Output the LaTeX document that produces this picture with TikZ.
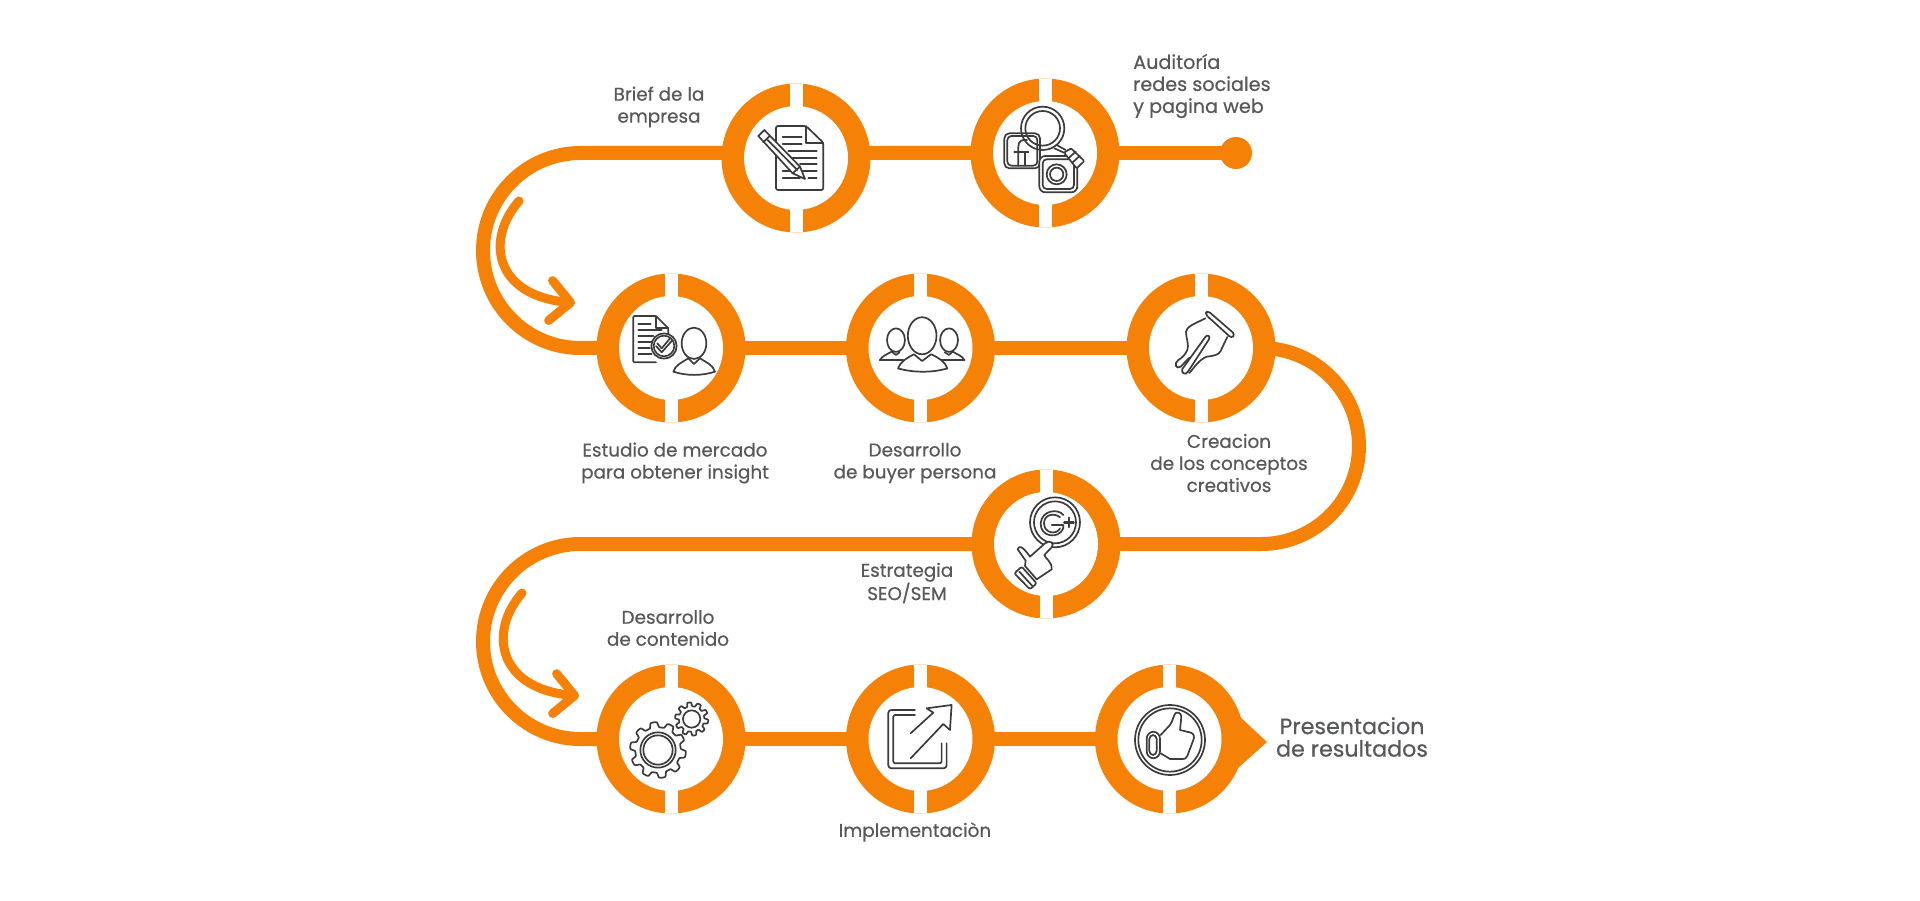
\documentclass[tikz,border=0pt]{standalone}
\usepackage{fontspec}
\setmainfont[RawFeature={embolden=0.6}]{Poppins}
\usetikzlibrary{arrows.meta,backgrounds}
\definecolor{brand}{HTML}{F58207}
\definecolor{ink}{HTML}{3C3C3E}
\definecolor{txt}{HTML}{58595B}

\begin{document}
\begin{tikzpicture}[
  x=1pt, y=1pt,
  hub/.style={circle, fill=brand, minimum size=149pt, inner sep=0pt, outer sep=0pt,
    path picture={
      \fill[white] (path picture bounding box.center) circle (52pt);
      \fill[white] ([xshift=-6.5pt,yshift=-80pt]path picture bounding box.center)
        rectangle ([xshift=6.5pt,yshift=80pt]path picture bounding box.center);
    }},
  track/.style={draw=brand, line width=14pt},
  guide/.style={draw=brand, line width=9pt, line cap=round,
                -{Straight Barb[length=20pt,width=40pt,round]}},
  lbl/.style={text=txt, align=center, inner sep=0pt, font=\fontsize{18.4}{22}\selectfont},
  lblbig/.style={text=txt, align=center, inner sep=0pt, font=\fontsize{22.2}{22.5}\selectfont},
  icon/.style={color=ink, line width=1.7pt, line join=round, line cap=round,
               x=.3333pt, y=-.3333pt}
]
\path[use as bounding box] (0,0) rectangle (1920,-901);

% ---- stations, row by row
\node[hub] (c1) at (796,-158) {};
\node[hub] (c2) at (1045,-153) {};
\node[hub] (c3) at (671,-348) {};
\node[hub] (c4) at (920.5,-348) {};
\node[hub] (c5) at (1201,-348) {};
\node[hub] (c6) at (1046,-544) {};
\node[hub] (c7) at (671,-739) {};
\node[hub] (c8) at (920.5,-739) {};
\node[hub] (c9) at (1169.5,-739) {};
\node[circle, fill=brand, minimum size=32pt, inner sep=0pt] (dot) at (1236,-153) {};

% ---- free ends of the track and of the two small arrows
\coordinate (tl) at (580.5,-153);
\coordinate (tr) at (1261,-348);
\coordinate (ml) at (580.5,-544);
\coordinate (a1) at (519,-201);
\coordinate (a1e) at (575,-303);
\coordinate (a2) at (522,-593);
\coordinate (a2e) at (579,-696);
\coordinate (tipa) at (1238,-715);
\coordinate (tipb) at (1238,-768);
\coordinate (tip) at (1267,-742);

% ---- track behind the stations
\begin{scope}[on background layer]
  \draw[track] (c2.center) -- (dot.center);
  \draw[track] (c2.center) -- (c1 |- c2) -- (tl) arc[start angle=90, end angle=270, radius=97.5pt] -- (c3.center);
  \foreach \a/\b in {c3/c4,c4/c5,c7/c8,c8/c9}
    \draw[track] (\a.center) -- (\b.center);
  \draw[track] (c5.center) -- (tr) arc[start angle=90, end angle=-90, radius=98pt] -- (c6.center);
  \draw[track] (c6.center) -- (ml) arc[start angle=90, end angle=270, radius=97.5pt] -- (c7.center);
  \fill[brand] (tipa) -- (tip) -- (tipb) -- cycle;
\end{scope}

% ---- small arrows inside the bends
\draw[guide] (a1) .. controls (485,-240) and (495,-295) .. (a1e);
\draw[guide] (a2) .. controls (488,-632) and (498,-688) .. (a2e);

% ---- labels
\node[lbl] (t1) at (659,-107) {Brief de la\\empresa};
\node[lbl, align=left, anchor=west, font=\fontsize{19.2}{22}\selectfont] (t2) at (1133,-86) {Auditoría\\redes sociales\\y pagina web};
\node[lbl] (t3) at (675,-463) {Estudio de mercado\\para obtener insight};
\node[lbl] (t4) at (915,-463) {Desarrollo\\de buyer persona};
\node[lbl] (t5) at (1229,-463) {Creacion\\de los conceptos\\creativos};
\node[lbl] (t6) at (907,-583) {Estrategia\\SEO/SEM};
\node[lbl] (t7) at (668,-628) {Desarrollo\\de contenido};
\node[lbl] (t8) at (915,-832) {Implementaciòn};
\node[lblbig] (t9) at (1352,-737) {Presentacion\\de resultados};

% ---- icon: document and pencil
\begin{scope}[shift={(745,-110)}, icon]
  \draw[rounded corners=2pt] (93,48) -- (183,48) -- (235,98) -- (235,240) -- (93,240) -- cycle;
  \draw (183,48) -- (183,98) -- (235,98);
  \foreach \xa/\xb/\yy in {113/170/80,113/170/103,130/215/123,140/215/143,165/215/163,
                           113/145/183,172/215/183,113/165/205,190/215/205}
    \draw (\xa,\yy) -- (\xb,\yy);
  \filldraw[fill=white] (40,78) -- (58,60) -- (165,170) -- (180,207) -- (143,190) -- cycle;
  \draw (55,97) -- (74,78);
  \draw (68,90) -- (157,180);
  \draw (143,190) -- (165,170);
\end{scope}

% ---- icon: magnifier over facebook and instagram
\begin{scope}[shift={(995,-100)}, icon]
  \draw[rounded corners=5pt] (28,100) rectangle (135,205);
  \draw[rounded corners=4pt] (37,108) rectangle (127,197);
  \draw (70,197) -- (70,140) .. controls (70,122) and (82,118) .. (96,120);
  \draw (58,155) -- (100,155);
  \draw (90,197) -- (90,155);
  \draw (143,85) circle (65);
  \draw (143,85) circle (52);
  \draw (185,135) -- (212,150);
  \draw (178,145) -- (207,158);
  \filldraw[fill=white, rounded corners=6pt] (133,168) rectangle (247,277);
  \draw[rounded corners=4pt] (143,178) rectangle (237,267);
  \draw (185,223) circle (30);
  \draw (185,223) circle (20);
  \filldraw[fill=white, rounded corners=1pt] (207,158) -- (228,145) -- (268,183) -- (245,205) -- cycle;
  \draw (220,175) -- (242,155);
  \draw (232,188) -- (254,168);
\end{scope}

% ---- icon: checked document and person
\begin{scope}[shift={(620,-300)}, icon]
  \draw[rounded corners=1pt] (108,187) -- (40,187) -- (40,48) -- (108,48) -- (145,85) -- (145,105);
  \draw (108,48) -- (108,85) -- (145,85);
  \foreach \xb/\yy in {92/72,125/90,100/107,95/125,90/143,95/163}
    \draw (55,\yy) -- (\xb,\yy);
  \filldraw[fill=white] (132,138) circle (38);
  \draw (132,138) circle (31);
  \draw (108,138) -- (125,157) -- (156,122);
  \draw (112,130) -- (125,145) -- (150,115);
  \draw (222,130) ellipse [x radius=37, y radius=47];
  \draw (160,215) .. controls (165,195) and (190,185) .. (205,175) -- (222,192) -- (240,175)
    .. controls (255,185) and (280,195) .. (285,215)
    .. controls (245,228) and (200,228) .. (160,215) -- cycle;
\end{scope}

% ---- icon: three people (other scale: from a wider crop)
\begin{scope}[shift={(820,-260)}, icon, x=.3584pt, y=-.3367pt]
  \draw (212,238) ellipse [x radius=25, y radius=35];
  \draw (360,238) ellipse [x radius=25, y radius=35];
  \draw (167,298) .. controls (172,285) and (188,280) .. (200,272) -- (212,282) -- (222,274);
  \draw (167,298) -- (232,298);
  \draw (403,298) .. controls (398,285) and (382,280) .. (370,272) -- (360,282) -- (348,274);
  \draw (403,298) -- (338,298);
  \filldraw[fill=white] (218,322) .. controls (225,300) and (245,290) .. (262,280) -- (285,300) -- (310,280)
    .. controls (330,290) and (348,300) .. (355,322)
    .. controls (315,335) and (260,335) .. (218,322) -- cycle;
  \draw (285,225) ellipse [x radius=40, y radius=55];
\end{scope}

% ---- icon: pen nib
\begin{scope}[shift={(1150,-295)}, icon]
  \draw[rounded corners=3pt] (165,57) -- (173,47) -- (255,118) -- (245,130) -- cycle;
  \draw (166,70) .. controls (130,88) and (110,95) .. (108,110)
    .. controls (108,130) and (118,150) .. (112,165)
    .. controls (105,180) and (95,190) .. (85,195)
    .. controls (70,205) and (78,225) .. (92,215) -- (118,188);
  \draw (118,234) .. controls (130,222) and (145,195) .. (170,185)
    .. controls (195,182) and (205,180) .. (212,168) .. controls (218,155) and (225,140) .. (232,126);
  \draw (166,126) -- (97,222) .. controls (92,235) and (108,242) .. (114,230)
    -- (177,133) .. controls (182,122) and (172,118) .. (166,126) -- cycle;
\end{scope}

% ---- icon: G+ and pointing hand
\begin{scope}[shift={(995,-490)}, icon]
  \draw (180,97) circle (75);
  \draw (180,97) circle (63);
  \draw (205,75) .. controls (190,55) and (140,60) .. (137,100)
    .. controls (135,140) and (190,150) .. (205,115) -- (205,105) -- (170,105);
  \draw (195,82) .. controls (180,68) and (147,72) .. (147,100)
    .. controls (147,130) and (185,136) .. (195,115);
  \draw[line width=2.4pt] (208,97) -- (236,97);
  \draw[line width=2.4pt] (222,83) -- (222,111);
  \filldraw[fill=white] (68,178) .. controls (72,165) and (82,168) .. (105,200) -- (150,160)
    .. controls (165,148) and (180,160) .. (170,172) -- (148,195)
    .. controls (150,205) and (172,215) .. (170,238) -- (125,268) -- (90,228) -- (92,212) -- cycle;
  \filldraw[fill=white, rounded corners=2pt] (80,230) -- (125,280) -- (105,298) -- (58,250) -- cycle;
  \draw (73,245) -- (112,288);
\end{scope}

% ---- icon: two gears
\begin{scope}[shift={(620,-690)}, icon]
  \draw (114,180) circle (53);
  \draw (114,180) circle (44);
  \draw (215,87) circle (26);
  \draw[shift={(114,180)}] plot[samples=181, domain=0:360] (\x:{76+8*tanh(3*sin(10*\x))}) -- cycle;
  \draw[shift={(215,87)}] plot[samples=181, domain=0:360] (\x:{44+6*tanh(3*sin(10*\x))}) -- cycle;
\end{scope}

% ---- icon: box with arrow going out
\begin{scope}[shift={(460,-520)}, icon]
  \draw[rounded corners=3pt] (1365,570) -- (1285,570) -- (1285,745) -- (1460,745) -- (1460,670);
  \draw[rounded corners=2pt] (1365,585) -- (1300,585) -- (1300,730) -- (1445,730) -- (1445,670);
  \draw (1352,640) -- (1420,578) -- (1400,565) -- (1475,555) -- (1470,630) -- (1450,612) -- (1352,715);
\end{scope}

% ---- icon: thumb up
\begin{scope}[shift={(1120,-690)}, icon]
  \draw (150,150) circle (105);
  \draw (150,150) circle (95);
  \draw[rounded corners=7pt] (80,125) rectangle (120,205);
  \draw[rounded corners=4pt] (88,135) rectangle (110,195);
  \draw (122,135) -- (150,105) .. controls (160,90) and (160,75) .. (168,68)
    .. controls (180,65) and (187,75) .. (183,90) -- (180,120) -- (213,128)
    .. controls (222,132) and (224,140) .. (220,150) -- (202,198)
    .. controls (198,206) and (195,207) .. (188,207) -- (150,207) -- (122,190);
\end{scope}
\end{tikzpicture}
\end{document}
